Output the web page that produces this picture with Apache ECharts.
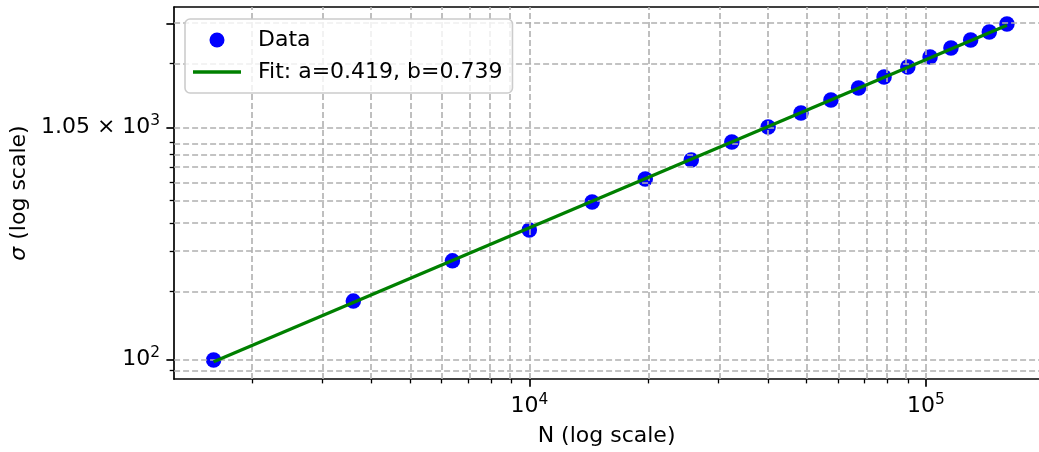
<!DOCTYPE html>
<html>
<head>
<meta charset="utf-8">
<title>sigma vs N</title>
<script src="https://cdn.jsdelivr.net/npm/echarts@6/dist/echarts.min.js"></script>
<style>
    html, body { margin: 0; padding: 0; background: #fff; }
    #main { width: 1039px; height: 452px; }
</style>
</head>
<body>
<div id="main"></div>
<script>
// 数据
var nValues = [1600, 3600, 6400, 10000, 14400, 19600, 25600, 32400, 40000, 48400,
    57600, 67600, 78400, 90000, 102400, 115600, 129600, 144400, 160000];
var sigmaValues = [99.7, 181, 272, 372, 494, 623, 755, 906, 1054, 1214,
    1386, 1565, 1749, 1935, 2141, 2345, 2542, 2755, 2990];
var fitN = [1600, 160000];
var fitSigma = [98, 2950];

// 刻度
var xMajorTicks = [10000, 100000];
var xMinorTicks = [2000, 3000, 4000, 5000, 6000, 7000, 8000, 9000,
    20000, 30000, 40000, 50000, 60000, 70000, 80000, 90000];
var xTickLabels = ['{b|10}{s|4}', '{b|10}{s|5}'];
var yMajorTicks = [100, 1050, 3000];
var yMinorTicks = [90, 200, 300, 400, 500, 600, 700, 800, 900, 2000];
var yLabelValues = [100, 1050];
var yTickLabels = ['{b|10}{s|2}', '{b|1.05 × 10}{s|3}'];

// 坐标范围（画布右边缘处截断）
var xRange = [1272, 192700];
var yRange = [82.3, 3551];

var font = 'DejaVu Sans';
var fontSize = 22;
var lg = Math.log10;

var supRich = {
    b: {fontFamily: font, fontSize: fontSize, color: '#000', lineHeight: 28},
    s: {fontFamily: font, fontSize: 15.4, color: '#000', lineHeight: 17, verticalAlign: 'top'}
};

function labelFor(values, labels) {
    return function (v) {
        for (var i = 0; i < values.length; i++) {
            if (Math.abs(lg(values[i]) - v) < 1e-6) return labels[i];
        }
        return '';
    };
}

var gridLines = [];
xMajorTicks.concat(xMinorTicks).forEach(function (v) { gridLines.push({xAxis: lg(v)}); });
yMajorTicks.concat(yMinorTicks).forEach(function (v) { gridLines.push({yAxis: lg(v)}); });

var myChart = echarts.init(document.getElementById('main'));

function xAxisOf(ticks, len, width, labels) {
    return {
        type: 'value', position: 'bottom',
        min: lg(xRange[0]), max: lg(xRange[1]),
        axisLine: {show: false},
        axisTick: {show: true, length: len, lineStyle: {color: '#000', width: width}, customValues: ticks.map(lg)},
        axisLabel: labels ? {
            show: true, margin: 13, color: '#000', fontFamily: font, fontSize: fontSize,
            customValues: ticks.map(lg), formatter: labelFor(ticks, labels), rich: supRich
        } : {show: false},
        splitLine: {show: false}
    };
}

function yAxisOf(ticks, len, width, labelVals, labels) {
    return {
        type: 'value', position: 'left',
        min: lg(yRange[0]), max: lg(yRange[1]),
        axisLine: {show: false},
        axisTick: {show: true, length: len, lineStyle: {color: '#000', width: width}, customValues: ticks.map(lg)},
        axisLabel: labels ? {
            show: true, margin: 14, color: '#000', fontFamily: font, fontSize: fontSize,
            customValues: labelVals.map(lg), formatter: labelFor(labelVals, labels), rich: supRich
        } : {show: false},
        splitLine: {show: false}
    };
}

var xMain = xAxisOf(xMajorTicks, 7.7, 1.7, xTickLabels);
xMain.axisLine = {show: true, lineStyle: {color: '#000', width: 1.7}};
xMain.name = 'N (log scale)';
xMain.nameLocation = 'middle';
xMain.nameGap = 46;
xMain.nameTextStyle = {color: '#000', fontFamily: font, fontSize: fontSize};

var xTop = xAxisOf([], 0, 1, null);
xTop.position = 'top';
xTop.axisTick = {show: false};
xTop.axisLine = {show: true, lineStyle: {color: '#000', width: 1.7}};

var yMain = yAxisOf(yMajorTicks, 7.7, 1.7, yLabelValues, yTickLabels);
yMain.axisLine = {show: true, lineStyle: {color: '#000', width: 1.7}};
yMain.name = '{i|σ} (log scale)';
yMain.nameLocation = 'middle';
yMain.nameGap = 139;
yMain.nameTextStyle = {
    color: '#000', fontFamily: font, fontSize: fontSize,
    rich: {i: {fontStyle: 'italic', fontFamily: font, fontSize: fontSize, color: '#000'}}
};

var option = {
    animation: false,
    backgroundColor: '#fff',
    grid: {left: 174, top: 7, right: 0, bottom: 73, show: false},
    legend: {
        orient: 'vertical', left: 185, top: 19,
        padding: [10, 10, 10, 8],
        itemWidth: 48, itemHeight: 15, itemGap: 10,
        backgroundColor: 'rgba(255,255,255,0.8)',
        borderColor: '#cccccc', borderWidth: 1.6, borderRadius: 5,
        textStyle: {color: '#000', fontFamily: font, fontSize: fontSize, lineHeight: 21, padding: [0, 0, 0, 12]},
        data: [
            {name: 'Data', icon: 'circle'},
            {name: 'Fit: a=0.419, b=0.739', icon: 'path://M0,0H48V3.3H0Z'}
        ],
        z: 20
    },
    xAxis: [xMain, xAxisOf(xMinorTicks, 4.4, 1.3, null), xTop],
    yAxis: [yMain, yAxisOf(yMinorTicks, 4.4, 1.3, null, null)],
    series: [{
        name: 'Data',
        type: 'scatter',
        symbol: 'circle',
        symbolSize: 15.5,
        itemStyle: {color: '#0000ff', opacity: 1},
        data: nValues.map(function (n, i) { return [lg(n), lg(sigmaValues[i])]; }),
        z: 2,
        markLine: {
            silent: true,
            symbol: ['none', 'none'],
            label: {show: false},
            lineStyle: {color: '#b0b0b0', type: [6, 3], width: 1.6, opacity: 1},
            data: gridLines,
            z: 5
        }
    }, {
        name: 'Fit: a=0.419, b=0.739',
        type: 'line',
        symbol: 'none',
        showSymbol: false,
        lineStyle: {color: '#008000', width: 3.3},
        itemStyle: {color: '#008000'},
        data: fitN.map(function (n, i) { return [lg(n), lg(fitSigma[i])]; }),
        z: 10
    }]
};

myChart.setOption(option);
</script>
</body>
</html>
